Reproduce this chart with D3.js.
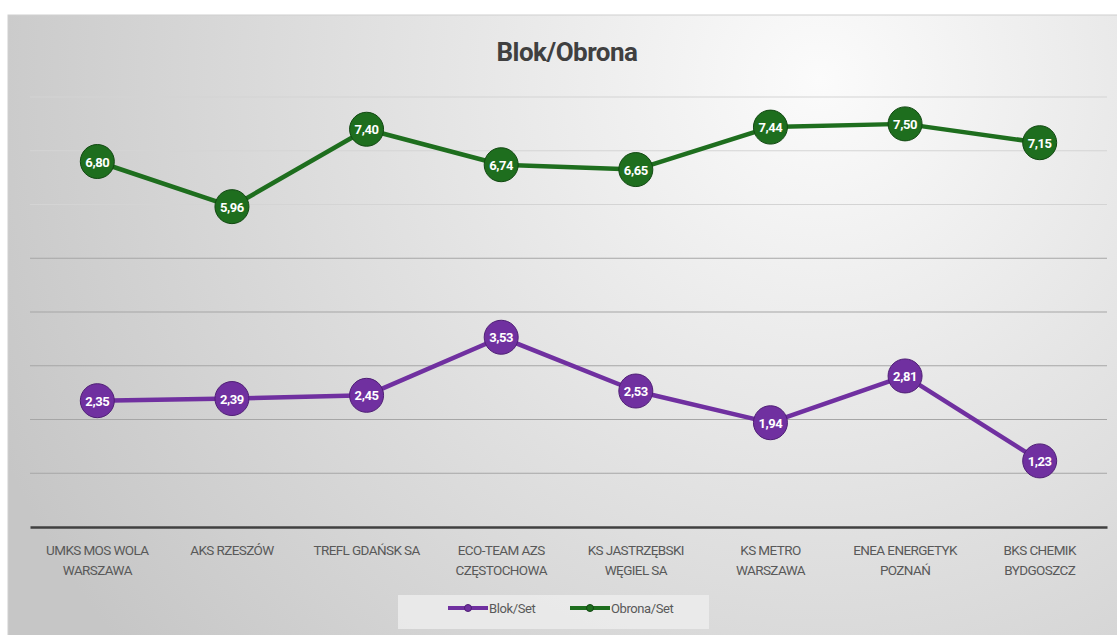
<!DOCTYPE html>
<meta charset="utf-8">
<style>
body { margin: 0; background: #fff; }
.title { font: bold 26px "Roboto", sans-serif; fill: #404040; text-anchor: middle; letter-spacing: -0.5px; }
.cat { font: 13.5px "Roboto", sans-serif; fill: #595959; text-anchor: middle; letter-spacing: -0.6px; }
.val { font: bold 13px "Roboto", sans-serif; fill: #fff; text-anchor: middle; letter-spacing: -0.4px; }
.leg { font: 13px "Roboto", sans-serif; fill: #595959; letter-spacing: -0.4px; }
</style>
<svg width="1117" height="635"></svg>
<script src="https://d3js.org/d3.v7.min.js"></script>
<script>

var categories = [
  ["UMKS MOS WOLA", "WARSZAWA"],
  ["AKS RZESZÓW"],
  ["TREFL GDAŃSK SA"],
  ["ECO-TEAM AZS", "CZĘSTOCHOWA"],
  ["KS JASTRZĘBSKI", "WĘGIEL SA"],
  ["KS METRO", "WARSZAWA"],
  ["ENEA ENERGETYK", "POZNAŃ"],
  ["BKS CHEMIK", "BYDGOSZCZ"]
];
var blokSet = [2.35, 2.39, 2.45, 3.53, 2.53, 1.94, 2.81, 1.23];
var obronaSet = [6.80, 5.96, 7.40, 6.74, 6.65, 7.44, 7.50, 7.15];
var yTicks = [0, 1, 2, 3, 4, 5, 6, 7, 8];

var series = [
  { name: "Blok/Set", values: blokSet, color: "#7030a0", stroke: "#4f1f75" },
  { name: "Obrona/Set", values: obronaSet, color: "#1e6e1e", stroke: "#124812" }
];

var svg = d3.select("svg");
var defs = svg.append("defs");
var grad = defs.append("radialGradient")
    .attr("id", "bg")
    .attr("gradientUnits", "userSpaceOnUse")
    .attr("cx", 820).attr("cy", 80).attr("r", 900);
grad.append("stop").attr("offset", "0%").attr("stop-color", "#fbfbfb");
grad.append("stop").attr("offset", "100%").attr("stop-color", "#c6c6c6");

svg.append("rect")
    .attr("x", 8).attr("y", 15)
    .attr("width", 1117).attr("height", 630)
    .attr("fill", "url(#bg)")
    .attr("stroke", "#d0d0d0");

var x = d3.scaleBand()
    .domain(d3.range(categories.length))
    .range([30, 1107]);

var y = d3.scaleLinear()
    .domain([0, 8])
    .range([527, 97]);

svg.append("text")
    .attr("class", "title")
    .attr("x", 567).attr("y", 61)
    .text("Blok/Obrona");

// gridlines
svg.append("g")
  .selectAll("line")
  .data(yTicks.slice(1))
  .enter().append("line")
    .attr("x1", 30).attr("x2", 1107)
    .attr("y1", function(d) { return y(d); })
    .attr("y2", function(d) { return y(d); })
    .attr("stroke", function(d) { return d >= 6 ? "#d4d4d4" : "#a6a6a6"; })
    .attr("stroke-width", 1.2);

// axis
var xAxis = svg.append("g")
    .attr("transform", "translate(0," + y(0) + ")")
    .call(d3.axisBottom(x).tickSize(0).tickFormat(""));
xAxis.select(".domain").attr("stroke", "#404040").attr("stroke-width", 2.5);

var cats = svg.append("g")
  .selectAll("text")
  .data(categories)
  .enter().append("text")
    .attr("class", "cat")
    .attr("x", function(d, i) { return x(i) + x.bandwidth() / 2; })
    .attr("y", 555);
cats.selectAll("tspan")
  .data(function(d) { return d; })
  .enter().append("tspan")
    .attr("x", function() { return d3.select(this.parentNode).attr("x"); })
    .attr("dy", function(d, i) { return i ? 20 : 0; })
    .text(function(d) { return d; });

var line = d3.line()
    .x(function(d, i) { return x(i) + x.bandwidth() / 2; })
    .y(function(d) { return y(d); });

var fmt = function(v) { return v.toFixed(2).replace(".", ","); };

series.forEach(function(s) {
  var g = svg.append("g");
  g.append("path")
    .datum(s.values)
    .attr("fill", "none")
    .attr("stroke", s.color)
    .attr("stroke-width", 4.5)
    .attr("stroke-linejoin", "round")
    .attr("d", line);
  var pt = g.selectAll(".pt")
    .data(s.values)
    .enter().append("g")
      .attr("transform", function(d, i) { return "translate(" + (x(i) + x.bandwidth() / 2) + "," + y(d) + ")"; });
  pt.append("circle")
    .attr("r", 17)
    .attr("fill", s.color)
    .attr("stroke", s.stroke)
    .attr("stroke-width", 1);
  pt.append("text")
    .attr("class", "val")
    .attr("dy", 5)
    .text(fmt);
});

// legend
var leg = svg.append("g");
leg.append("rect")
    .attr("x", 398).attr("y", 595)
    .attr("width", 311).attr("height", 34)
    .attr("fill", "#ececec").attr("opacity", 0.85);
var legX = [448, 570];
series.forEach(function(s, i) {
  var lg = leg.append("g").attr("transform", "translate(" + legX[i] + ",608)");
  lg.append("line").attr("x1", 0).attr("x2", 40).attr("stroke", s.color).attr("stroke-width", 4);
  lg.append("circle").attr("cx", 20).attr("r", 3.5).attr("fill", s.color).attr("stroke", s.stroke);
  lg.append("text").attr("class", "leg").attr("x", 41).attr("y", 5).text(s.name);
});

</script>
